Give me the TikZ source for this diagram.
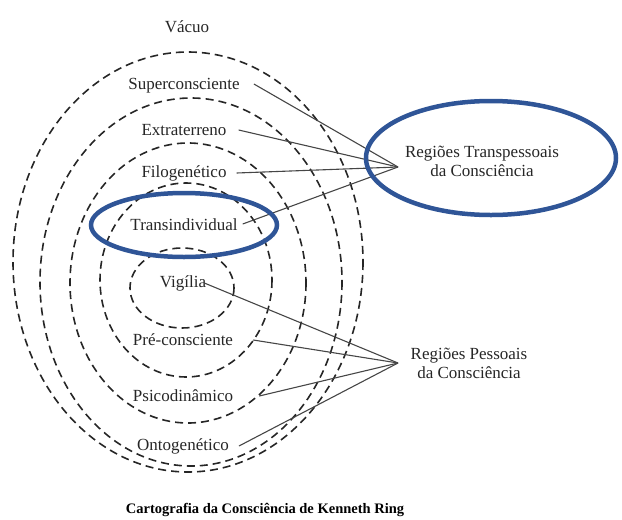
\documentclass[tikz,border=0pt]{standalone}
\usepackage{fontspec}
\setmainfont{Liberation Serif}
\definecolor{ringblue}{RGB}{47,85,151}
\definecolor{linegray}{RGB}{70,70,70}
\begin{document}
\begin{tikzpicture}[x=1pt,y=-1pt,
  lbl/.style={font=\fontsize{17}{19}\selectfont, inner sep=0pt, text=black!85},
  ring/.style={draw=black!85, line width=1.6pt, dash pattern=on 8pt off 5pt},
  conn/.style={draw=linegray, line width=1.1pt},
  hilite/.style={draw=ringblue, line width=4.5pt}]
\useasboundingbox (0,0) rectangle (622,520);
% nested dashed ellipses
\draw[ring] (188,262) ellipse [x radius=175, y radius=210];
\draw[ring] (191,282) ellipse [x radius=151, y radius=184];
\draw[ring] (188,283) ellipse [x radius=118, y radius=140];
\draw[ring] (186,280) ellipse [x radius=86, y radius=97];
\draw[ring] (182,288) ellipse [x radius=52, y radius=40];
% labels
\node[lbl] (vac) at (187,27) {Vácuo};
\node[lbl] (sup) at (184,86) {Superconsciente};
\node[lbl] (ext) at (184,130) {Extraterreno};
\node[lbl] (fil) at (184,173) {Filogenético};
\node[lbl] (tra) at (184,225) {Transindividual};
\node[lbl] (vig) at (183,283) {Vigília};
\node[lbl] (pre) at (183,340) {Pré-consciente};
\node[lbl] (psi) at (183,396) {Psicodinâmico};
\node[lbl] (ont) at (183,446) {Ontogenético};
\node[lbl, align=center] (tp) at (482,161) {Regiões Transpessoais\\da Consciência};
\node[lbl, align=center] (pp) at (469,363) {Regiões Pessoais\\da Consciência};
\node[font=\bfseries\fontsize{14.5}{16}\selectfont, inner sep=0pt] (cap) at (265,510) {Cartografia da Consciência de Kenneth Ring};
% convergence points
\coordinate (tpc) at (398,167);
\coordinate (ppc) at (398,363);
% connectors
\draw[conn] ([xshift=14pt,yshift=2pt]sup.east) -- (tpc);
\draw[conn] ([xshift=12pt]ext.east) -- (tpc);
\draw[conn] ([xshift=10pt]fil.east) -- (tpc);
\draw[conn] ([xshift=5pt,yshift=1pt]tra.east) -- (tpc);
\draw[conn] ([xshift=-2pt]vig.east) -- (ppc);
\draw[conn] ([xshift=20pt]pre.east) -- (ppc);
\draw[conn] ([xshift=26pt]psi.east) -- (ppc);
\draw[conn] ([xshift=10pt]ont.east) -- (ppc);
% highlight ellipses
\draw[hilite] (tra) ellipse [x radius=93, y radius=32];
\draw[hilite] (491,158) ellipse [x radius=125, y radius=57];
\end{tikzpicture}
\end{document}
